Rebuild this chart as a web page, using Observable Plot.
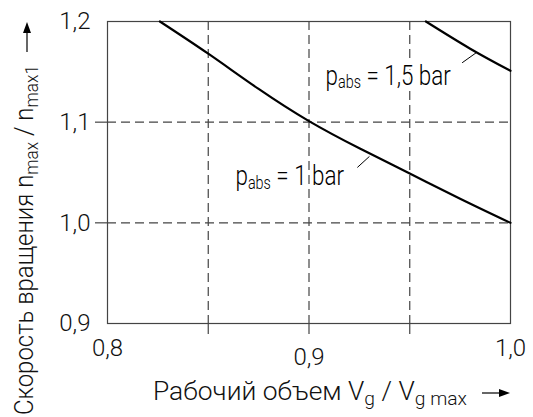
<!DOCTYPE html>
<html><head><meta charset="utf-8">
<script src="https://cdn.jsdelivr.net/npm/d3@7"></script>
<script src="https://cdn.jsdelivr.net/npm/@observablehq/plot@0.6"></script>
<style>body{margin:0;background:#fff} #chart{width:533px;height:417px}</style>
</head><body><div id="chart"></div>
<script>
// ---- data ----
const volume1bar = [0.826, 0.85, 0.875, 0.9, 0.925, 0.95, 0.975, 1.0];
const speed1bar  = [1.2, 1.168, 1.133, 1.101, 1.074, 1.049, 1.024, 1.0];
const volume15bar = [0.958, 0.98, 1.0];
const speed15bar  = [1.2, 1.173, 1.151];

const xTickLabels = [0.8, 1.0];
const xTickLabelsLow = [0.9];
const yTickLabels = [0.9, 1.0, 1.1, 1.2];
const xGridTicks = [0.85, 0.9, 0.95];
const yGridTicks = [1.0, 1.1];

const curveLabelValues = ["1", "1,5"];
const curveLabelX = [0.8635, 0.9082];
const curveLabelY = [1.046, 1.146];
const leaderX1 = [0.924, 0.976], leaderY1 = [1.055, 1.159];
const leaderX2 = [0.930, 0.983], leaderY2 = [1.066, 1.169];

const xTitle = [["Рабочий объем V", false], ["g", true], [" / V", false], ["g max", true]];
const yTitle = [["Скорость вращения n", false], ["max", true], [" / n", false], ["max1", true]];

// ---- tables ----
const curve1 = volume1bar.map((v, i) => ({v, n: speed1bar[i]}));
const curve15 = volume15bar.map((v, i) => ({v, n: speed15bar[i]}));
const labels = curveLabelValues.map((t, i) => ({t, x: curveLabelX[i], y: curveLabelY[i]}));
const leaders = leaderX1.map((x1, i) => ({x1, y1: leaderY1[i], x2: leaderX2[i], y2: leaderY2[i]}));
const fmt = d => d.toFixed(1).replace(".", ",");
const gridStyle = {stroke: "#444", strokeOpacity: 1, strokeWidth: 1.2, strokeDasharray: "9,5"};
const FONT = "Roboto, 'Liberation Sans', Arial, sans-serif";

const plot = Plot.plot({
  width: 533, height: 417,
  marginLeft: 107, marginRight: 23, marginTop: 21, marginBottom: 94,
  x: {domain: [0.8, 1.0]},
  y: {domain: [0.9, 1.2]},
  style: {fontFamily: FONT, fontWeight: 300, fontSize: "24px", color: "#111", background: "#fff", overflow: "visible"},
  marks: [
    Plot.gridX(xGridTicks, gridStyle),
    Plot.gridY(yGridTicks, gridStyle),
    Plot.axisX(xGridTicks, {tickSize: 11, fill: "none", label: null, stroke: "#444", strokeWidth: 1.2}),
    Plot.axisY(yGridTicks, {tickSize: 12, fill: "none", label: null, stroke: "#444", strokeWidth: 1.2}),
    Plot.axisX(xTickLabels, {tickSize: 0, tickPadding: 15, label: null, tickFormat: fmt}),
    Plot.axisX(xTickLabelsLow, {tickSize: 0, tickPadding: 24, label: null, tickFormat: fmt}),
    Plot.axisY(yTickLabels, {tickSize: 0, tickPadding: 17, label: null, tickFormat: fmt}),
    Plot.frame({stroke: "#444", strokeWidth: 1.2}),
    Plot.line(curve1, {x: "v", y: "n", stroke: "#000", strokeWidth: 2.2, curve: "natural"}),
    Plot.line(curve15, {x: "v", y: "n", stroke: "#000", strokeWidth: 2.2, curve: "natural"}),
    Plot.link(leaders, {x1: "x1", y1: "y1", x2: "x2", y2: "y2", stroke: "#000", strokeWidth: 1}),
    Plot.text(labels, {x: "x", y: "y", text: "t", textAnchor: "start", fontSize: 28, fill: "#000",
      stroke: "#fff", strokeWidth: 5})
  ]
});
document.getElementById("chart").appendChild(plot);

const svg = d3.select(plot);
function rich(textSel, parts, subSize, shift) {
  textSel.text(null);
  let prevSub = false;
  parts.forEach(([t, sub]) => {
    const ts = textSel.append("tspan").text(t);
    if (sub && !prevSub) ts.attr("dy", shift);
    if (!sub && prevSub) ts.attr("dy", -shift);
    if (sub) ts.attr("font-size", subSize);
    prevSub = sub;
  });
}
svg.selectAll("text").filter(function() { return curveLabelValues.includes(this.textContent); }).each(function() {
  const t = this.textContent;
  const sel = d3.select(this);
  rich(sel, [["p", false], ["abs", true], [" = " + t + " bar", false]], 18, 3);
  const tr = sel.attr("transform") || "";
  sel.attr("transform", tr + " scale(0.8,1)");
});

// axis titles
const xt = svg.append("text").attr("x", 153).attr("y", 400).attr("text-anchor", "start")
  .attr("font-size", 26).attr("fill", "#111").attr("textLength", 314).attr("lengthAdjust", "spacingAndGlyphs");
rich(xt, xTitle, 19, 5);
const yt = svg.append("text").attr("transform", "translate(33,415) rotate(-90)").attr("text-anchor", "start")
  .attr("font-size", 25).attr("fill", "#111").attr("textLength", 350).attr("lengthAdjust", "spacingAndGlyphs");
rich(yt, yTitle, 18, 5);

// arrows
function arrow(x1, y1, x2, y2) {
  const a = Math.atan2(y2 - y1, x2 - x1), L = 11, W = 4;
  const bx = x2 - L * Math.cos(a), by = y2 - L * Math.sin(a);
  svg.append("line").attr("x1", x1).attr("y1", y1).attr("x2", bx).attr("y2", by).attr("stroke", "#000").attr("stroke-width", 1.2);
  svg.append("path").attr("d", `M${x2},${y2}L${bx - W * Math.sin(a)},${by + W * Math.cos(a)}L${bx + W * Math.sin(a)},${by - W * Math.cos(a)}Z`).attr("fill", "#000");
}
arrow(482, 393, 510, 393);
arrow(27, 52, 27, 22);
</script></body></html>
